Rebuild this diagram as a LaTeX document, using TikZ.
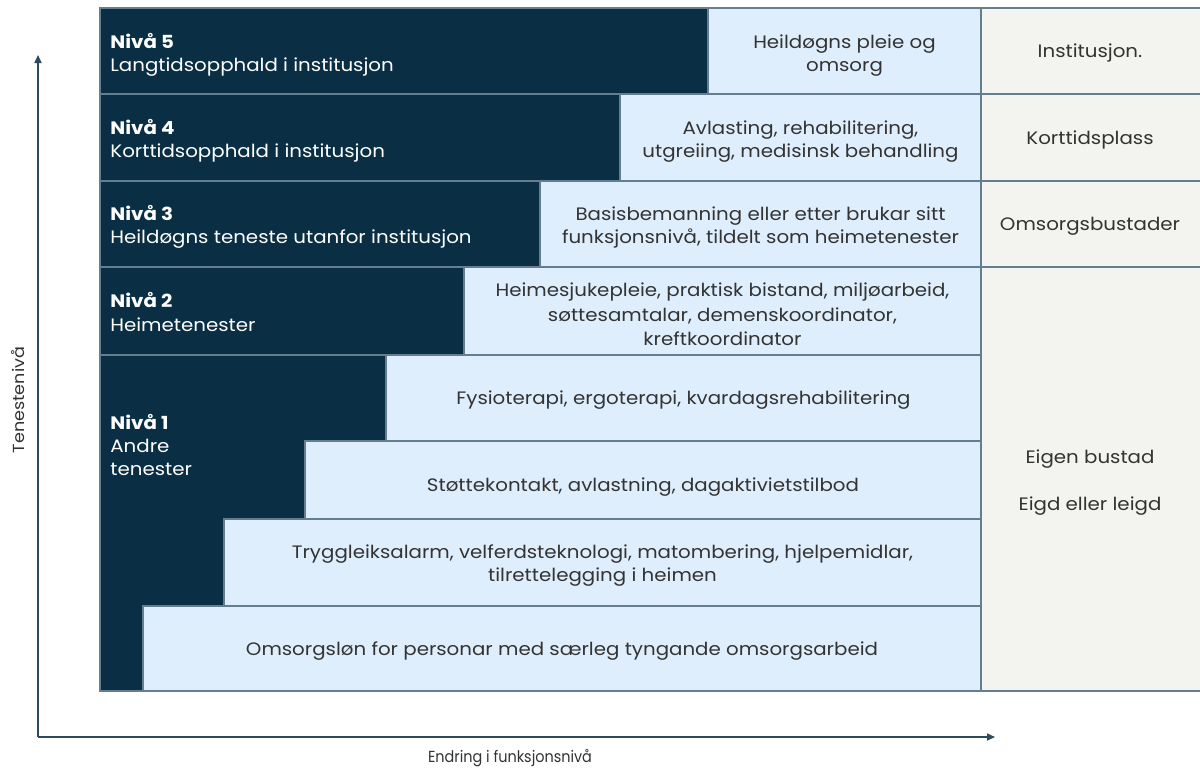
\documentclass[tikz,border=0pt]{standalone}
\usepackage{fontspec}
\setmainfont{Poppins}[FakeStretch=1.1]
\usetikzlibrary{fit,arrows.meta}
\definecolor{navy}{HTML}{0A2F44}
\definecolor{pale}{HTML}{DFEEFD}
\definecolor{beige}{HTML}{F3F3EF}
\definecolor{edge}{HTML}{647E8F}
\definecolor{txt}{HTML}{333333}
\definecolor{axis}{HTML}{2E4A5C}
\tikzset{
  cell/.style={inner sep=0pt, outer sep=0pt, draw=edge, line width=0.7pt, rectangle},
  darkcell/.style={cell, fill=navy},
  palecell/.style={cell, fill=pale},
  sidecell/.style={cell, fill=beige},
  celltext/.style={inner sep=0pt, yshift=-1.2pt, align=center, text=txt, font=\fontsize{9}{11.6}\selectfont},
  lvl/.style={anchor=west, yshift=-1pt, align=left, text=white, inner sep=0pt, font=\fontsize{9}{11.6}\selectfont},
  ax/.style={draw=axis, line width=0.8pt, -{Triangle[length=4pt,width=3.5pt]}},
  axlabel/.style={text=txt, inner sep=0pt, font=\fontsize{8}{10}\selectfont}
}
\begin{document}
\begin{tikzpicture}[x=0.5pt,y=-0.5pt]
\useasboundingbox[fill=white] (0,0) rectangle (1200,767);
% right column
\node[sidecell, fit={(981,8)(1202,94)}] (r5) {};
\node[sidecell, fit={(981,94)(1202,181)}] (r4) {};
\node[sidecell, fit={(981,181)(1202,267)}] (r3) {};
\node[sidecell, fit={(981,267)(1202,691)}] (r1) {};
% dark blocks
\node[darkcell, fit={(100,8)(708,94)}] (d5) {};
\node[darkcell, fit={(100,94)(620,181)}] (d4) {};
\node[darkcell, fit={(100,181)(540,267)}] (d3) {};
\node[darkcell, fit={(100,267)(464,355)}] (d2) {};
\node[darkcell, fit={(100,355)(386,691)}] (d1) {};
% pale blocks
\node[palecell, fit={(708,8)(981,94)}] (p5) {};
\node[palecell, fit={(620,94)(981,181)}] (p4) {};
\node[palecell, fit={(540,181)(981,267)}] (p3) {};
\node[palecell, fit={(464,267)(981,355)}] (p2) {};
\node[palecell, fit={(386,355)(981,441)}] (p1a) {};
\node[palecell, fit={(305,441)(981,519)}] (p1b) {};
\node[palecell, fit={(224,519)(981,606)}] (p1c) {};
\node[palecell, fit={(143,606)(981,691)}] (p1d) {};
% texts of right column
\node[celltext] (tr5) at (1090,51) {Institusjon.};
\node[celltext] (tr4) at (1090,138) {Korttidsplass};
\node[celltext] (tr3) at (1090,224) {Omsorgsbustader};
\node[celltext] (tr1) at (1090,480) {Eigen bustad\\[12pt]Eigd eller leigd};
% texts of pale blocks
\node[celltext] (tp5) at (844.5,53) {Heildøgns pleie og\\omsorg};
\node[celltext] (tp4) at (800.5,139) {Avlasting, rehabilitering,\\utgreiing, medisinsk behandling};
\node[celltext] (tp3) at (760.5,225) {Basisbemanning eller etter brukar sitt\\funksjonsnivå, tildelt som heimetenester};
\node[celltext, font=\fontsize{9}{12.2}\selectfont] (tp2) at (722.5,312) {Heimesjukepleie, praktisk bistand, miljøarbeid,\\søttesamtalar, demenskoordinator,\\kreftkoordinator};
\node[celltext] (tp1a) at (683.5,398) {Fysioterapi, ergoterapi, kvardagsrehabilitering};
\node[celltext] (tp1b) at (643,485) {Støttekontakt, avlastning, dagaktivietstilbod};
\node[celltext] (tp1c) at (602.5,563) {Tryggleiksalarm, velferdsteknologi, matombering, hjelpemidlar,\\tilrettelegging i heimen};
\node[celltext] (tp1d) at (562,649) {Omsorgsløn for personar med særleg tyngande omsorgsarbeid};
% level labels
\node[lvl] (n5) at (110,53) {\textbf{Nivå 5}\\Langtidsopphald i institusjon};
\node[lvl] (n4) at (110,139) {\textbf{Nivå 4}\\Korttidsopphald i institusjon};
\node[lvl] (n3) at (110,225) {\textbf{Nivå 3}\\Heildøgns teneste utanfor institusjon};
\node[lvl] (n2) at (110,310) {\textbf{Nivå 2}\\Heimetenester};
\node[lvl] (n1) at (110,443) {\textbf{Nivå 1}\\Andre\\tenester};
% axes
\coordinate (o) at (38,737);
\coordinate (ytop) at (38,55);
\coordinate (xend) at (995,737);
\draw[ax] (o) -- (ytop);
\draw[ax] (o) -- (xend);
\node[axlabel, rotate=90] (ylab) at (18,400) {Tenestenivå};
\node[axlabel, xscale=0.82, transform shape] (xlab) at (510,758) {Endring i funksjonsnivå};
\end{tikzpicture}
\end{document}
